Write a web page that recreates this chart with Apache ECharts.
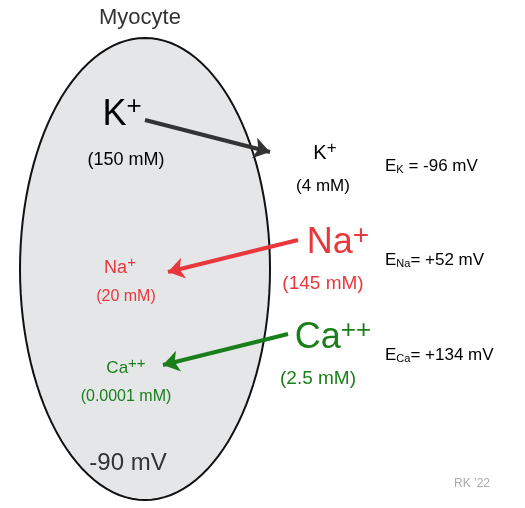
<!DOCTYPE html><html><head><meta charset="utf-8"><script src="https://cdn.jsdelivr.net/npm/echarts@6/dist/echarts.min.js"></script>
<style>html,body{margin:0;background:#fff}#c{width:525px;height:508px}</style></head><body><div id="c"></div><script>
// Ellipse (cell) center & radii in diagram units
const cellCenter=[145,269], cellRadii=[125,231];
// Text items: [x, y, richText, align]
const labelPos=[[140,18],[122,115],[126,160],[325,153],[323,186],[338,243],[323,284],[120,268],[126,297],[333,338],[318,379],[126,368],[126,397],[128,463],[385,166],[385,260],[385,355],[472,484]];
const labelText=['{my|Myocyte}','{kb|K}{kbs|+}','{kc|(150 mM)}','{ko|K}{kos|+}','{k4|(4 mM)}','{nab|Na}{nabs|+}','{nac|(145 mM)}','{nai|Na}{nais|+}','{naic|(20 mM)}','{cab|Ca}{cabs|++}','{cac|(2.5 mM)}','{cai|Ca}{cais|++}','{caic|(0.0001 mM)}','{mv|-90 mV}','{e|E}{es|K}{e| = -96 mV}','{e|E}{es|Na}{e|= +52 mV}','{e|E}{es|Ca}{e|= +134 mV}','{rk|RK \u201922}'];
// Arrows: from -> to
const arrowK=[[145,120],[270,152]], arrowNa=[[298,240],[168,272]], arrowCa=[[288,334],[163,365]];
const F='Liberation Sans, Arial, sans-serif';
const R='#e8383d', G='#1a7f1a';
const rich={
 my:{fontSize:22,color:'#333'},
 kb:{fontSize:36,color:'#000'},kbs:{fontSize:26,color:'#000',padding:[0,0,16,0]},
 kc:{fontSize:18,color:'#000'},
 ko:{fontSize:20,color:'#000'},kos:{fontSize:17,color:'#000',padding:[0,0,10,0]},
 k4:{fontSize:17,color:'#000'},
 nab:{fontSize:36,color:R},nabs:{fontSize:28,color:R,padding:[0,0,14,0]},
 nac:{fontSize:19,color:R},
 nai:{fontSize:18,color:R},nais:{fontSize:15,color:R,padding:[0,0,10,0]},
 naic:{fontSize:16,color:R},
 cab:{fontSize:36,color:G},cabs:{fontSize:26,color:G,padding:[0,0,14,0]},
 cac:{fontSize:19,color:G},
 cai:{fontSize:17,color:G},cais:{fontSize:15,color:G,padding:[0,0,9,0]},
 caic:{fontSize:16,color:G},
 mv:{fontSize:24,color:'#333'},
 e:{fontSize:17,color:'#000'},es:{fontSize:11,color:'#000',padding:[8,0,0,0]},
 rk:{fontSize:12,color:'#aaa'}
};
const ch=echarts.init(document.getElementById('c'));
const arrow=(c,col)=>({type:'lines',coordinateSystem:'cartesian2d',symbol:['none','arrow'],symbolSize:[0,16],z:5,
 lineStyle:{color:col,width:4,opacity:1},data:[{coords:c}]});
ch.setOption({animation:false,
 grid:{left:0,right:0,top:0,bottom:0},
 xAxis:{type:'value',min:0,max:525,show:false},
 yAxis:{type:'value',min:0,max:508,inverse:true,show:false},
 series:[
  {type:'custom',z:1,data:[[cellCenter[0],cellCenter[1],cellRadii[0],cellRadii[1]]],renderItem:(p,api)=>{
    const cx=api.value(0),cy=api.value(1),rx=api.value(2),ry=api.value(3),pts=[];
    for(let i=0;i<120;i++){const t=i/120*2*Math.PI;pts.push(api.coord([cx+rx*Math.cos(t),cy+ry*Math.sin(t)]));}
    return {type:'polygon',shape:{points:pts},style:{fill:'#e5e6e8',stroke:'#111',lineWidth:2}};
  }},
  arrow(arrowK,'#333'),arrow(arrowNa,R),arrow(arrowCa,G),
  {type:'scatter',symbolSize:0,z:10,itemStyle:{opacity:1},data:labelPos.map((p,i)=>({value:p,label:{show:true,position:'inside',opacity:1,
    align:i>=14&&i<=16?'left':'center',formatter:labelText[i],fontFamily:F,rich}}))}
 ]});
</script></body></html>
